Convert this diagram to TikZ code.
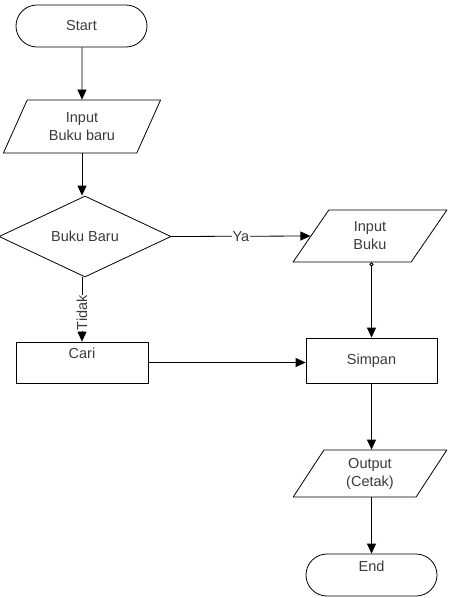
\documentclass[tikz,border=0pt]{standalone}
\usepackage{fontspec}
\setmainfont{Liberation Sans}
\usetikzlibrary{shapes.geometric, shapes.misc, arrows.meta}

\definecolor{txtgray}{HTML}{3A3A3A}

\begin{document}
\begin{tikzpicture}[x=1pt, y=-1pt, line cap=round, line join=round,
  every node/.style={font=\fontsize{14.5}{18}\selectfont, text=txtgray, align=center},
  terminal/.style={draw, line width=0.8pt, rounded rectangle, minimum width=131pt, minimum height=42pt, inner sep=0pt},
  io/.style={draw, line width=0.8pt, trapezium, trapezium left angle=63, trapezium right angle=117,
    trapezium stretches=true, inner sep=0pt},
  process/.style={draw, line width=0.8pt, rectangle, inner sep=0pt},
  decision/.style={draw, line width=0.8pt, diamond, aspect=2, inner sep=0pt, minimum width=172pt, minimum height=81pt},
  flow/.style={line width=0.8pt, -{Triangle[length=10pt, width=9pt]}}]

% Fix the size of the picture
\useasboundingbox (0,0) rectangle (448,598);

% Left column
\node[terminal] (start) at (81.5,26) {Start};
\node[io, minimum width=158pt, minimum height=53pt] (inbaru) at (82,126.5) {Input\\Buku baru};
\node[decision] (cek) at (85,236.5) {Buku Baru};
\node[process, minimum width=132pt, minimum height=41pt] (cari) at (82,362.5) {Cari\\\mbox{}};

% Right column
\node[io, minimum width=154pt, minimum height=52pt] (inbuku) at (370,236) {Input\\Buku};
\node[process, minimum width=131pt, minimum height=45pt] (simpan) at (371.5,360.5) {Simpan};
\node[io, minimum width=154pt, minimum height=47pt] (cetak) at (370,473.5) {Output\\(Cetak)};
\node[terminal] (end) at (371.5,575) {End\\\mbox{}};

% Connectors
\draw[flow] (start.south -| inbaru) -- (inbaru.north);
\draw[flow] (inbaru.south) -- (inbaru.south |- cek.north);
\draw[flow] (cek.south -| cari) -- (cari.north)
  node[pos=0.55, rotate=90, fill=white, inner sep=0.5pt] (tidak) {Tidak};
\draw[flow] (cek.east) -- (inbuku.west)
  node[pos=0.5, fill=white, inner sep=0.5pt] (ya) {Ya};
\draw[line width=0.8pt, {Circle[open, length=4pt, width=4pt, fill=white]}-{Triangle[length=10pt, width=9pt]}]
  (inbuku.south -| simpan) -- (simpan.north);
\draw[flow] (cari.east) -- (cari.east -| simpan.west);
\draw[flow] (simpan.south) -- (cetak.north -| simpan);
\draw[flow] (cetak.south -| end) -- (end.north);

\end{tikzpicture}
\end{document}
